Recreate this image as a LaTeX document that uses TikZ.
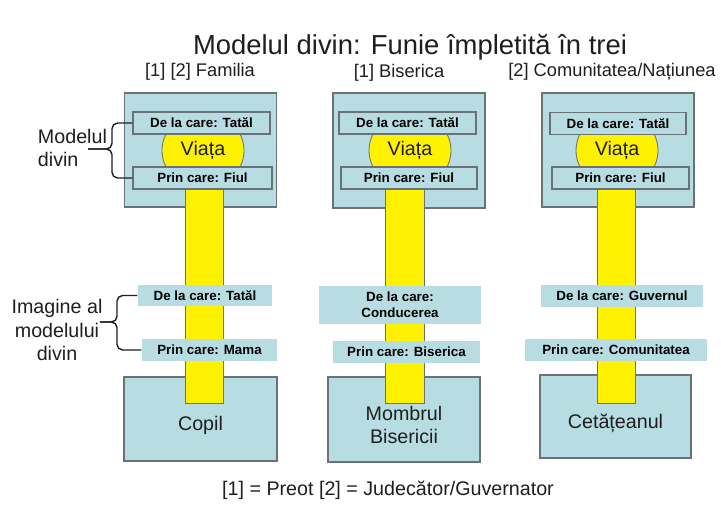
\documentclass[tikz,border=0pt]{standalone}
\usepackage{fontspec}
\setmainfont{Liberation Sans}
\usepackage{xcolor}
\usepackage{tikz}
\usetikzlibrary{shapes,arrows}
\definecolor{paleblue}{RGB}{183,221,226}
\definecolor{edgegray}{RGB}{105,114,118}
\definecolor{inkgray}{RGB}{30,30,30}

\begin{document}
\begin{tikzpicture}[x=0.025cm, y=-0.025cm, text=inkgray]
    \tikzstyle{panel} = [rectangle, draw=edgegray, fill=paleblue, line width=0.8pt,
        inner sep=0pt]
    \tikzstyle{word} = [align=center, font=\fontsize{14}{15.8}\selectfont]
    \tikzstyle{tag} = [rectangle, draw=edgegray, fill=paleblue, line width=0.8pt,
        inner sep=0pt, minimum height=0.55cm, align=center, text=black,
        font=\fontsize{9.5}{11.5}\selectfont\bfseries]
    \tikzstyle{freetag} = [tag, draw=none]
    \tikzstyle{rope} = [rectangle, draw=edgegray, fill=yellow, line width=0.6pt,
        inner sep=0pt, minimum width=0.95cm, minimum height=5.45cm]
    \tikzstyle{life} = [ellipse, draw=edgegray, fill=yellow, line width=0.6pt,
        inner sep=0pt, minimum width=2.05cm, minimum height=1.9cm,
        font=\fontsize{14}{17}\selectfont]
    \tikzstyle{heading} = [font=\fontsize{13}{16}\selectfont]
    \tikzstyle{brace} = [draw=inkgray, line width=1pt, rounded corners=4pt]
    \useasboundingbox (0,0) rectangle (721,508);

    \node [font=\fontsize{19.5}{23}\selectfont] (title) at (410,47) {Modelul divin: Funie împletită în trei};
    \node [heading] (head1) at (200,72) {[1] [2] Familia};
    \node [heading] (head2) at (399,73) {[1] Biserica};
    \node [heading] (head3) at (612,72) {[2] Comunitatea/Națiunea};

    % Familia
    \node [panel, minimum width=3.8cm, minimum height=2.85cm] (top1) at (200.5,150) {};
    \node [panel, minimum width=3.825cm, minimum height=2.1cm] (base1) at (200.5,419) {};
    \node [word] (copil) at (200.5,425) {Copil};
    \node [life] (viata1) at (203,150.5) {Viața};
    \node [rope] (rope1) at (204,294) {};
    \node [tag, minimum width=3.425cm] (dela1) at (201.5,123) {De la care: Tatăl};
    \node [tag, minimum width=3.475cm] (prin1) at (202.5,178) {Prin care: Fiul};
    \node [freetag, minimum width=3.35cm, minimum height=0.525cm] (dela1b) at (205,295.5) {De la care: Tatăl};
    \node [freetag, minimum width=3.375cm] (prin1b) at (209.5,350) {Prin care: Mama};

    % Biserica
    \node [panel, minimum width=3.8cm, minimum height=2.875cm] (top2) at (409,150.5) {};
    \node [panel, minimum width=3.8cm, minimum height=2.125cm] (base2) at (404,419.5) {};
    \node [word] (membru) at (404,425) {Mombrul\\Bisericii};
    \node [life] (viata2) at (410,150.5) {Viața};
    \node [rope, minimum width=0.975cm] (rope2) at (404.5,294) {};
    \node [tag, minimum width=3.425cm] (dela2) at (407.5,123) {De la care: Tatăl};
    \node [tag, minimum width=3.4cm] (prin2) at (409,178) {Prin care: Fiul};
    \node [freetag, minimum width=4.05cm, minimum height=0.95cm] (dela2b) at (400,305) {De la care:\\Conducerea};
    \node [freetag, minimum width=3.675cm] (prin2b) at (406.5,352) {Prin care: Biserica};

    % Comunitatea
    \node [panel, minimum width=3.8cm, minimum height=2.85cm] (top3) at (618,150) {};
    \node [panel, minimum width=3.775cm, minimum height=2.075cm] (base3) at (615.5,416.5) {};
    \node [word] (cetatean) at (615.5,423) {Cetățeanul};
    \node [life] (viata3) at (617,150.5) {Viața};
    \node [rope] (rope3) at (616,294) {};
    \node [tag, minimum width=3.4cm] (dela3) at (618,123.5) {De la care: Tatăl};
    \node [tag, minimum width=3.425cm] (prin3) at (620.5,178) {Prin care: Fiul};
    \node [freetag, minimum width=4.05cm] (dela3b) at (622,296) {De la care: Guvernul};
    \node [freetag, minimum width=4.55cm] (prin3b) at (616,350) {Prin care: Comunitatea};

    % acolade
    \coordinate (bar1) at (112,149);
    \coordinate (tip1) at (88,149);
    \coordinate (bar2) at (117,322);
    \coordinate (tip2) at (100,322);
    \path [brace] (dela1.west) -| (bar1) -- (tip1);
    \path [brace] (prin1.west) -| (bar1) -- (tip1);
    \path [brace] (dela1b.west) -| (bar2) -- (tip2);
    \path [brace] (prin1b.west) -| (bar2) -- (tip2);

    \node [anchor=west, align=left, font=\fontsize{14}{16.5}\selectfont] (model) at (33,148) {Modelul\\divin};
    \node [align=center, font=\fontsize{14}{16.5}\selectfont] (imagine) at (57,330) {Imagine al\\modelului\\divin};

    \node [font=\fontsize{14}{17}\selectfont] (legend) at (388,490) {[1] = Preot [2] = Judecător/Guvernator};
\end{tikzpicture}
\end{document}
